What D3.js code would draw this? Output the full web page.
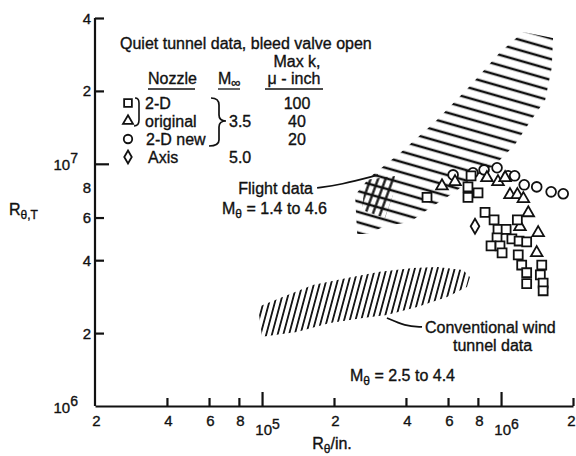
<!DOCTYPE html>
<meta charset="utf-8">
<head>
<script src="https://d3js.org/d3.v7.min.js"></script>
<style>
	body { margin: 0; background: #fff; }
	svg text { font-family: "Liberation Sans", Arial, sans-serif; fill: #111; stroke: #111; stroke-width: 0.35; }
	.axis path, .axis line { stroke: #111; stroke-width: 2.2; }
	.mark { fill: #fff; stroke: #111; stroke-width: 1.8; }
</style>
</head>
<body>
<div id="chart"></div>
<script>
// quiet tunnel data (R_theta/in., R_theta,T)
var squareReIn  = [4.9e5, 7.27e5, 7.49e5, 8.01e5, 7.27e5, 8.57e5, 9.35e5, 1.17e6, 9.71e5, 1.05e6, 9.62e5, 9.08e5, 9.9e5, 1.11e6, 1.19e6, 1.28e6, 1.01e6, 1.18e6, 1.22e6, 1.48e6, 1.28e6, 1.46e6, 1.28e6, 1.50e6, 1.50e6];
var squareReT   = [7.27e6, 8.03e6, 8.92e6, 7.59e6, 7.27e6, 6.3e6, 5.87e6, 5.87e6, 5.36e6, 5.36e6, 4.95e6, 4.58e6, 4.58e6, 4.9e6, 4.8e6, 4.76e6, 4.29e6, 4.21e6, 3.82e6, 3.82e6, 3.55e6, 3.48e6, 3.2e6, 3.22e6, 2.99e6];
var triangleReIn = [5.66e5, 6.42e5, 8.73e5, 9.71e5, 1.04e6, 1.09e6, 1.17e6, 1.24e6, 1.30e6, 1.2e6, 1.43e6, 1.41e6];
var triangleReT  = [8.1e6, 8.43e6, 8.75e6, 8.43e6, 8.75e6, 7.45e6, 7.45e6, 7.17e6, 6.27e6, 5.5e6, 5.19e6, 4.29e6];
var circleReIn = [6.3e5, 7.63e5, 8.49e5, 9.62e5, 1.07e6, 1.14e6, 1.25e6, 1.41e6, 1.62e6, 1.82e6];
var circleReT  = [9.0e6, 9.18e6, 9.44e6, 9.63e6, 8.92e6, 8.92e6, 8.19e6, 8.03e6, 7.66e6, 7.52e6];
var diamondReIn = [7.78e5];
var diamondReT  = [5.52e6];

// hatched regions (outline, data units)
var flightReIn = [2.50e5, 2.45e5, 2.83e5, 3.78e5, 5.29e5, 7.41e5, 9.9e5, 1.236e6, 1.65e6, 1.63e6, 1.53e6, 1.32e6, 1.14e6, 9.43e5, 7.56e5, 6.42e5, 5.04e5, 4.16e5, 3.27e5, 2.78e5];
var flightReT  = [5.13e6, 7.43e6, 8.82e6, 1.108e7, 1.488e7, 2.095e7, 2.89e7, 3.50e7, 3.31e7, 2.49e7, 1.834e7, 1.488e7, 1.196e7, 9.89e6, 8.74e6, 7.65e6, 6.57e6, 5.75e6, 5.54e6, 5.13e6];
var flightPatchReIn = [2.70e5, 3.60e5, 3.53e5, 3.27e5, 2.62e5];
var flightPatchReT  = [8.57e6, 8.9e6, 7.43e6, 5.97e6, 6.45e6];
var convReIn = [9.62e4, 1.19e5, 1.63e5, 2.27e5, 3.11e5, 4.28e5, 5.40e5, 6.93e5, 7.41e5, 7.20e5, 5.94e5, 4.45e5, 3.33e5, 2.64e5, 1.92e5, 1.40e5, 1.0e5];
var convReT  = [2.564e6, 2.79e6, 3.16e6, 3.38e6, 3.58e6, 3.71e6, 3.75e6, 3.64e6, 3.41e6, 3.10e6, 2.82e6, 2.564e6, 2.375e6, 2.31e6, 2.20e6, 2.02e6, 1.93e6];

// leader lines
var flightLeaderReIn = [1.70e5, 2.12e5, 3.06e5];
var flightLeaderReT  = [7.95e6, 8.18e6, 8.99e6];
var convLeaderReIn = [3.33e5, 3.96e5, 4.67e5];
var convLeaderReT  = [2.31e6, 2.14e6, 2.12e6];

var xTicks = [2e4, 4e4, 6e4, 8e4, 1e5, 2e5, 4e5, 6e5, 8e5, 1e6, 2e6];
var yTicks = [1e6, 2e6, 4e6, 6e6, 8e6, 1e7, 2e7, 4e7];

var width = 576, height = 456;

var x = d3.scaleLog().domain([2e4, 2e6]).range([95, 573]);
var y = d3.scaleLog().domain([1e6, 4e7]).range([406, 18]);

var svg = d3.select("#chart").append("svg")
	.attr("width", width)
	.attr("height", height);

var defs = svg.append("defs");
function hatch(id, gap, angle, sw) {
	defs.append("pattern")
		.attr("id", id)
		.attr("patternUnits", "userSpaceOnUse")
		.attr("width", gap).attr("height", gap)
		.attr("patternTransform", "rotate(" + angle + ")")
		.append("line")
		.attr("x1", gap / 2).attr("y1", 0).attr("x2", gap / 2).attr("y2", gap)
		.attr("stroke", "#111").attr("stroke-width", sw);
}
hatch("flight", 10, 106, 2.5);
hatch("patch", 7, 20, 2.3);
hatch("conv", 5.5, 15, 1.8);

function isPow(v) { return Math.abs(Math.log10(v) - Math.round(Math.log10(v))) < 1e-9; }
function mant(v) { return Math.round(v / Math.pow(10, Math.floor(Math.log10(v) + 1e-9))); }

var line = d3.line().x(function(d) { return x(d[0]); }).y(function(d) { return y(d[1]); });
function pts(a, b) { return a.map(function(v, i) { return [v, b[i]]; }); }

// regions
svg.append("path").attr("d", line(pts(flightReIn, flightReT)) + "Z").attr("fill", "url(#flight)");
svg.append("path").attr("d", line(pts(flightPatchReIn, flightPatchReT)) + "Z").attr("fill", "url(#patch)");
svg.append("path").attr("d", line(pts(convReIn, convReT)) + "Z").attr("fill", "url(#conv)");

var lead = d3.line().curve(d3.curveBasis).x(function(d) { return x(d[0]); }).y(function(d) { return y(d[1]); });
svg.append("path").attr("d", lead(pts(flightLeaderReIn, flightLeaderReT)))
	.attr("fill", "none").attr("stroke", "#111").attr("stroke-width", 1.7);
svg.append("path").attr("d", lead(pts(convLeaderReIn, convLeaderReT)))
	.attr("fill", "none").attr("stroke", "#111").attr("stroke-width", 1.7);

// axes
var xg = svg.append("g").attr("class", "axis")
	.attr("transform", "translate(0," + y(1e6) + ")")
	.call(d3.axisBottom(x).tickValues(xTicks).tickSizeInner(-8).tickSizeOuter(0).tickFormat(""));
xg.selectAll(".tick line").attr("y2", function(d) { return isPow(d) ? -14 : (d == 2e4 ? 0 : -8); });
xg.selectAll(".tick").each(function(d) {
	var t = d3.select(this).append("text").attr("text-anchor", "middle")
		.style("font-size", "15px");
	if (isPow(d)) {
		t.attr("y", 29).attr("x", 5).text("10").append("tspan").attr("dy", -6).style("font-size", "14px").text(Math.round(Math.log10(d)));
	} else {
		t.attr("y", 20).attr("x", d == 2e6 ? -2 : 1).text(mant(d));
	}
});

var yg = svg.append("g").attr("class", "axis")
	.attr("transform", "translate(" + x(2e4) + ",0)")
	.call(d3.axisLeft(y).tickValues(yTicks).tickSizeInner(-8).tickSizeOuter(0).tickFormat(""));
yg.select(".domain").attr("d", "M0," + y(1e6) + "V" + y(4e7));
yg.selectAll(".tick line").attr("x2", function(d) { return d == 1e7 ? 14 : (d == 8e6 || d == 1e6 ? 0 : 9); });
yg.selectAll(".tick").each(function(d) {
	var t = d3.select(this).append("text").attr("text-anchor", "end")
		.style("font-size", "15px");
	if (isPow(d)) {
		t.attr("x", -17).attr("y", 6).text("10").append("tspan").attr("dy", -7).style("font-size", "14px").text(Math.round(Math.log10(d)));
	} else {
		t.attr("x", -4).attr("y", 5).text(mant(d));
	}
});

// axis titles
var xt = svg.append("text").attr("x", 332).attr("y", 449).attr("text-anchor", "middle").style("font-size", "16px").text("R");
xt.append("tspan").attr("dy", 4).style("font-size", "12px").text("θ");
xt.append("tspan").attr("dy", -4).text("/in.");
var yt = svg.append("text").attr("x", 9).attr("y", 215).style("font-size", "16px").text("R");
yt.append("tspan").attr("dy", 4).style("font-size", "12px").text("θ,T");

// markers
var marks = svg.append("g");
var sym = { square: d3.symbolSquare, triangle: d3.symbolTriangle, circle: d3.symbolCircle, diamond: d3.symbolDiamond };
var size = { square: 80, triangle: 58, circle: 75, diamond: 65 };
function series(kind, xs, ys) {
	marks.selectAll(null).data(pts(xs, ys)).enter().append("path")
		.attr("class", "mark")
		.attr("transform", function(d) { return "translate(" + x(d[0]) + "," + y(d[1]) + ")"; })
		.attr("d", d3.symbol().type(sym[kind]).size(size[kind]));
}
series("circle", circleReIn, circleReT);
series("triangle", triangleReIn, triangleReT);
series("square", squareReIn, squareReT);
series("diamond", diamondReIn, diamondReT);

// legend
var lg = svg.append("g").style("font-size", "16px");
lg.append("text").attr("x", 120).attr("y", 49).text("Quiet tunnel data, bleed valve open");
lg.append("text").attr("x", 297).attr("y", 67).attr("text-anchor", "middle").text("Max k,");
lg.append("text").attr("x", 148).attr("y", 84).text("Nozzle");
var mi = lg.append("text").attr("x", 218).attr("y", 84).text("M");
mi.append("tspan").attr("dy", 3).style("font-size", "13px").text("∞");
lg.append("text").attr("x", 294).attr("y", 84).attr("text-anchor", "middle").text("μ - inch");
[[148, 195], [218, 240], [265, 323]].forEach(function(u) {
	lg.append("line").attr("x1", u[0]).attr("x2", u[1]).attr("y1", 89).attr("y2", 89)
		.attr("stroke", "#111").attr("stroke-width", 1.3);
});
var rowY = [103, 121, 139, 157];
var rowKind = ["square", "triangle", "circle", "diamond"];
var rowName = ["2-D", "original", "2-D new", "Axis"];
var rowNameX = [145, 145, 146, 148];
var rowK = ["100", "40", "20", ""];
rowY.forEach(function(ry, i) {
	lg.append("path").attr("class", "mark")
		.attr("transform", "translate(128," + ry + ")")
		.attr("d", d3.symbol().type(sym[rowKind[i]]).size(size[rowKind[i]] * 0.75)());
	lg.append("text").attr("x", rowNameX[i]).attr("y", ry + 6).text(rowName[i]);
	lg.append("text").attr("x", 297).attr("y", ry + 6).attr("text-anchor", "middle").text(rowK[i]);
});
lg.append("text").attr("x", 229).attr("y", rowY[1] + 6).text("3.5");
lg.append("text").attr("x", 229).attr("y", rowY[3] + 6).text("5.0");
// braces
lg.append("path").attr("d", "M135,98 Q139,98 139,103 L139,120 Q139,126 134,126")
	.attr("fill", "none").attr("stroke", "#111").attr("stroke-width", 1.6);
lg.append("path").attr("d", "M211,98 Q219,98 219,105 L219,115 Q219,121 226,121 Q219,121 219,127 L219,140 Q219,146 209,146")
	.attr("fill", "none").attr("stroke", "#111").attr("stroke-width", 1.7);

// annotations
var an = svg.append("g").style("font-size", "16px");
an.append("text").attr("x", 313).attr("y", 194).attr("text-anchor", "end").text("Flight data");
var m1 = an.append("text").attr("x", 222).attr("y", 214).text("M");
m1.append("tspan").attr("dy", 4).style("font-size", "12px").text("θ");
m1.append("tspan").attr("dy", -4).text(" = 1.4 to 4.6");
an.append("text").attr("x", 425).attr("y", 333).text("Conventional wind");
an.append("text").attr("x", 453).attr("y", 351).text("tunnel data");
var m2 = an.append("text").attr("x", 350).attr("y", 381).text("M");
m2.append("tspan").attr("dy", 4).style("font-size", "12px").text("θ");
m2.append("tspan").attr("dy", -4).text(" = 2.5 to 4.4");
</script>
</body>
